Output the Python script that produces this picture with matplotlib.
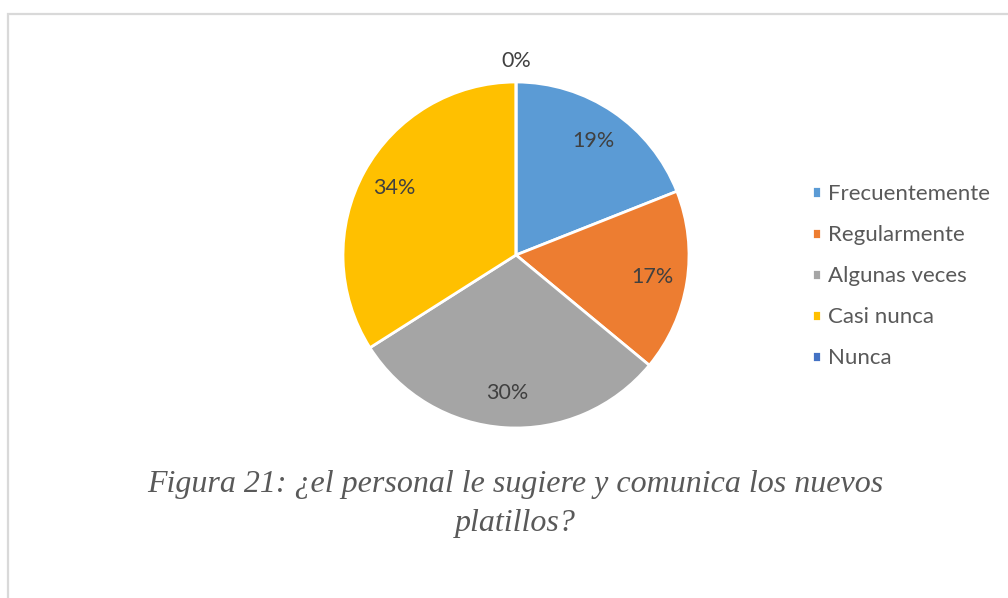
import matplotlib.pyplot as plt
from matplotlib.patches import Rectangle

categorias = ['Frecuentemente', 'Regularmente', 'Algunas veces', 'Casi nunca', 'Nunca']
porcentajes = [19, 17, 30, 34, 0]
colores = ['#5B9BD5', '#ED7D31', '#A5A5A5', '#FFC000', '#4472C4']
titulo = 'Figura 21: ¿el personal le sugiere y comunica los nuevos\nplatillos?'

W, H = 1008, 598
fig = plt.figure(figsize=(W / 100, H / 100), dpi=100)

# marco gris del gráfico
fig.patches.append(Rectangle((8 / W, -0.1), 1.2, (H - 14) / H + 0.1, transform=fig.transFigure,
                             fill=False, edgecolor='#D9D9D9', linewidth=1.6))

cx, cy, r, half = 516, 255, 173, 200
ax = fig.add_axes([(cx - half) / W, (H - cy - half) / H, 2 * half / W, 2 * half / H])
lim = half / r

wedges, _, autotexts = ax.pie(porcentajes, colors=colores, startangle=90, counterclock=False,
                              autopct=lambda p: f'{p:.0f}%', pctdistance=0.8,
                              wedgeprops=dict(edgecolor='white', linewidth=2),
                              textprops=dict(fontsize=15.5, color='#404040', family='Lato'))
# la etiqueta del 0% va fuera del círculo
for t, v in zip(autotexts, porcentajes):
    if v == 0:
        x, y = t.get_position()
        t.set_position((x / 0.8 * 1.12, y / 0.8 * 1.12))
ax.set_xlim(-lim, lim)
ax.set_ylim(-lim, lim)
ax.axis('off')

leg = fig.legend(wedges, categorias, loc='upper left', bbox_to_anchor=(812 / W, 1 - 184 / H),
                 frameon=False, borderpad=0, borderaxespad=0,
                 handlelength=0.4, handleheight=0.4, handletextpad=0.3,
                 labelspacing=0.95, prop=dict(family='Lato', size=16))
for t in leg.get_texts():
    t.set_color('#595959')

fig.text(515 / W, 1 - 504 / H, titulo, ha='center', va='center', fontsize=23, style='italic',
         family='Liberation Serif', color='#595959', linespacing=1.45)

fig.savefig('out.png', dpi=100)
